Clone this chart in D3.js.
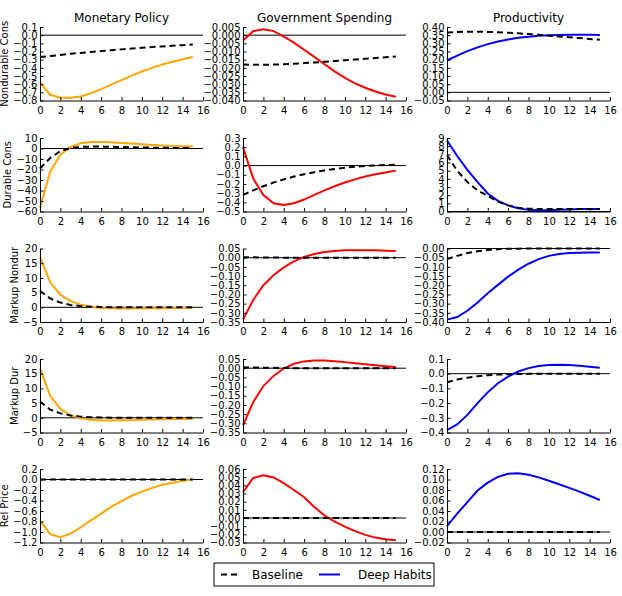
<!DOCTYPE html>
<html><head><meta charset="utf-8">
<script src="https://cdn.jsdelivr.net/npm/d3@7"></script>
<style>body{margin:0;background:#fff} text{font-family:"DejaVu Sans",sans-serif;fill:#000}</style>
</head><body><svg id="c" width="622" height="596"></svg>
<script>
const periods = [0,1,2,3,4,5,6,7,8,9,10,11,12,13,14,15];
const xTicks = [0,2,4,6,8,10,12,14,16];
const shocks = ["Monetary Policy","Government Spending","Productivity"];
const variables = ["Nondurable Cons","Durable Cons","Markup Nondur","Markup Dur","Rel Price"];
const shockColors = ["#FFA500","#FF0000","#0000FF"];
const seriesNames = ["Baseline","Deep Habits"];

// y-axis [min,max], tick step, decimals: rows = variables, cols = shocks
const yDomains = [
  [[-0.8,0.1],[-0.04,0.005],[-0.05,0.40]],
  [[-60,10],[-0.5,0.3],[0,9]],
  [[-5,20],[-0.35,0.05],[-0.40,0.00]],
  [[-5,20],[-0.35,0.05],[-0.4,0.1]],
  [[-1.2,0.2],[-0.03,0.06],[-0.02,0.12]]
];
const yStep = [
  [0.1,0.005,0.05],
  [10,0.1,1],
  [5,0.05,0.05],
  [5,0.05,0.1],
  [0.2,0.01,0.02]
];
const yDecimals = [
  [1,3,2],
  [0,1,0],
  [0,2,2],
  [0,2,1],
  [1,2,2]
];

// Nondurable consumption
const mpNondurBase = [-0.268,-0.255,-0.242,-0.229,-0.217,-0.205,-0.194,-0.184,-0.174,-0.164,-0.155,-0.146,-0.138,-0.130,-0.122,-0.114];
const mpNondurDH   = [-0.575,-0.73,-0.766,-0.765,-0.75,-0.71,-0.66,-0.605,-0.55,-0.495,-0.445,-0.40,-0.36,-0.325,-0.295,-0.268];
const gsNondurBase = [-0.0180,-0.0181,-0.0181,-0.0180,-0.0178,-0.0175,-0.0171,-0.0167,-0.0163,-0.0158,-0.0153,-0.0149,-0.0144,-0.0140,-0.0135,-0.0130];
const gsNondurDH   = [-0.0032,0.0024,0.0036,0.0025,-0.0009,-0.0046,-0.0089,-0.0133,-0.0178,-0.0222,-0.0262,-0.0295,-0.0322,-0.0345,-0.0363,-0.0377];
const prNondurBase = [0.366,0.370,0.371,0.371,0.370,0.368,0.365,0.361,0.357,0.352,0.347,0.342,0.337,0.332,0.327,0.322];
const prNondurDH   = [0.195,0.225,0.252,0.275,0.295,0.311,0.324,0.334,0.341,0.346,0.349,0.351,0.352,0.352,0.352,0.351];
// Durable consumption
const mpDurBase = [-19,-9,-2.5,0.5,1.5,1.8,1.8,1.6,1.4,1.2,1.0,0.8,0.7,0.6,0.5,0.4];
const mpDurDH   = [-57,-22,-6,1.5,5,6.2,6.3,5.9,5.3,4.7,4.0,3.4,2.9,2.5,2.1,1.8];
const gsDurBase = [-0.32,-0.27,-0.225,-0.185,-0.15,-0.12,-0.095,-0.072,-0.053,-0.037,-0.024,-0.013,-0.005,0.002,0.006,0.009];
const gsDurDH   = [0.2,-0.14,-0.32,-0.41,-0.43,-0.41,-0.37,-0.32,-0.27,-0.225,-0.185,-0.15,-0.12,-0.095,-0.075,-0.055];
const prDurBase = [6.9,5.0,3.6,2.6,1.9,1.2,0.75,0.45,0.35,0.3,0.3,0.3,0.3,0.3,0.3,0.3];
const prDurDH   = [8.7,6.8,5.1,3.6,2.2,1.3,0.75,0.4,0.2,0.15,0.15,0.2,0.25,0.3,0.3,0.3];
// Markup nondurables
const mpMkNBase = [5.6,3.0,1.6,0.8,0.4,0.2,0.1,0.05,0,0,0,0,0,0,0,0];
const mpMkNDH   = [17.2,8.5,4.3,2.1,0.9,0.2,-0.2,-0.35,-0.4,-0.4,-0.35,-0.3,-0.3,-0.25,-0.25,-0.2];
const gsMkNBase = [0.003,0.002,0.001,0.001,0,0,0,0,0,0,0,0,0,0,0,0];
const gsMkNDH   = [-0.337,-0.23,-0.15,-0.095,-0.053,-0.02,0.004,0.02,0.031,0.037,0.04,0.041,0.041,0.04,0.038,0.036];
const prMkNBase = [-0.058,-0.04,-0.025,-0.015,-0.008,-0.004,-0.002,-0.001,0,0,0,0,0,0,0,0];
const prMkNDH   = [-0.387,-0.373,-0.339,-0.294,-0.243,-0.198,-0.153,-0.115,-0.083,-0.058,-0.040,-0.030,-0.025,-0.023,-0.022,-0.022];
// Markup durables
const mpMkDBase = [5.5,2.8,1.5,0.8,0.4,0.2,0.1,0.05,0,0,0,0,0,0,0,0];
const mpMkDDH   = [16.8,7.5,3,0.9,-0.2,-0.7,-0.9,-0.9,-0.85,-0.8,-0.7,-0.6,-0.5,-0.45,-0.4,-0.35];
const gsMkDBase = [0.005,0.004,0.003,0.002,0.001,0,0,0,0,0,0,0,0,0,0,0];
const gsMkDDH   = [-0.31,-0.185,-0.097,-0.042,-0.002,0.024,0.037,0.042,0.042,0.038,0.033,0.027,0.021,0.016,0.011,0.007];
const prMkDBase = [-0.058,-0.04,-0.027,-0.017,-0.01,-0.006,-0.003,-0.002,-0.001,0,0,0,0,0,0,0];
const prMkDDH   = [-0.384,-0.345,-0.28,-0.2,-0.127,-0.065,-0.02,0.015,0.038,0.052,0.059,0.061,0.059,0.054,0.048,0.04];
// Relative price
const mpRelBase = [0,0,0,0,0,0,0,0,0,0,0,0,0,0,0,0];
const mpRelDH   = [-0.78,-1.04,-1.10,-1.03,-0.91,-0.78,-0.65,-0.52,-0.41,-0.31,-0.23,-0.16,-0.10,-0.06,-0.025,0.0];
const gsRelBase = [0,0,0,0,0,0,0,0,0,0,0,0,0,0,0,0];
const gsRelDH   = [0.0315,0.049,0.0524,0.0496,0.0427,0.0343,0.0255,0.0135,0.003,-0.0045,-0.0105,-0.016,-0.0207,-0.024,-0.026,-0.0272];
const prRelBase = [0,0,0,0,0,0,0,0,0,0,0,0,0,0,0,0];
const prRelDH   = [0.011,0.035,0.057,0.079,0.094,0.105,0.111,0.112,0.109,0.104,0.0975,0.091,0.084,0.077,0.069,0.061];

const panelData = [
  [[mpNondurBase,mpNondurDH],[gsNondurBase,gsNondurDH],[prNondurBase,prNondurDH]],
  [[mpDurBase,mpDurDH],[gsDurBase,gsDurDH],[prDurBase,prDurDH]],
  [[mpMkNBase,mpMkNDH],[gsMkNBase,gsMkNDH],[prMkNBase,prMkNDH]],
  [[mpMkDBase,mpMkDDH],[gsMkDBase,gsMkDDH],[prMkDBase,prMkDDH]],
  [[mpRelBase,mpRelDH],[gsRelBase,gsRelDH],[prRelBase,prRelDH]]
];

// layout
const colX = [40, 243, 447], panelW = 163;
const rowY = [27, 138, 248.5, 359, 469], panelH = 73.5;
const svg = d3.select("#c");
const FS = 10;

shocks.forEach((s, c) => {
  svg.append("text").attr("x", colX[c] + panelW/2).attr("y", 21.5)
    .attr("text-anchor","middle").style("font-size","12px").text(s);
});

variables.forEach((v, r) => {
  let minLeft = 1e9;
  shocks.forEach((s, c) => {
    const [lo, hi] = yDomains[r][c];
    const step = yStep[r][c];
    const n = Math.round((hi - lo) / step);
    const ticks = d3.range(n + 1).map(i => +(lo + i * step).toFixed(10));
    const x = d3.scaleLinear().domain([0,16]).range([0, panelW]);
    const y = d3.scaleLinear().domain([lo, hi]).range([panelH, 0]);
    const g = svg.append("g").attr("transform", `translate(${colX[c]},${rowY[r]})`);
    const fmt = d3.format(`.${yDecimals[r][c]}f`);

    g.append("line").attr("x1", x(0)).attr("x2", x(16)).attr("y1", y(0)).attr("y2", y(0))
      .attr("stroke","#000").attr("stroke-width",1);

    const line = d3.line().x((d,i) => x(periods[i])).y(d => y(d));
    const [base, dh] = panelData[r][c];
    g.append("path").datum(dh).attr("d", line).attr("fill","none")
      .attr("stroke", shockColors[c]).attr("stroke-width", 2);
    g.append("path").datum(base).attr("d", line).attr("fill","none")
      .attr("stroke", "#000").attr("stroke-width", 2).attr("stroke-dasharray","6,4");

    const ya = g.append("g").call(d3.axisLeft(y).tickValues(ticks).tickFormat(fmt)
      .tickSize(-3.5).tickSizeOuter(0).tickPadding(2.5));
    const xa = g.append("g").attr("transform", `translate(0,${panelH})`)
      .call(d3.axisBottom(x).tickValues(xTicks).tickSize(-3.5).tickSizeOuter(0).tickPadding(6));
    [ya, xa].forEach(a => {
      a.selectAll("text").style("font-size", FS + "px").style("font-family","DejaVu Sans");
      a.select(".domain").attr("stroke","#000");
      a.selectAll(".tick line").attr("stroke","#000");
    });
    if (c === 0) {
      ya.selectAll("text").each(function(){
        const b = this.getBBox();
        minLeft = Math.min(minLeft, colX[c] + b.x);
      });
    }
  });
  svg.append("text")
    .attr("transform", `translate(${minLeft - 5},${rowY[r] + panelH/2}) rotate(-90)`)
    .attr("text-anchor","middle").style("font-size","10px").text(v);
});

// legend
const lg = svg.append("g").attr("transform","translate(214,563)");
lg.append("rect").attr("width",220).attr("height",23).attr("fill","#fff")
  .attr("stroke","#000").attr("stroke-width",1);
lg.append("line").attr("x1",7).attr("x2",26).attr("y1",11.5).attr("y2",11.5)
  .attr("stroke","#000").attr("stroke-width",2).attr("stroke-dasharray","6,4");
lg.append("text").attr("x",38).attr("y",16).style("font-size","12px").text(seriesNames[0]);
lg.append("line").attr("x1",105).attr("x2",126).attr("y1",11.5).attr("y2",11.5)
  .attr("stroke",shockColors[2]).attr("stroke-width",2);
lg.append("text").attr("x",144).attr("y",16).style("font-size","12px").text(seriesNames[1]);
</script></body></html>
